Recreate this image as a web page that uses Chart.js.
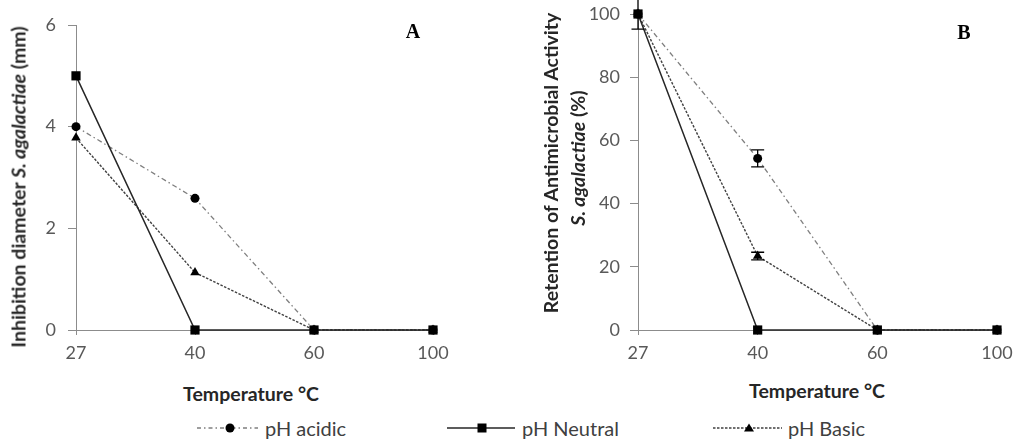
<!DOCTYPE html>
<html>
<head>
<meta charset="utf-8">
<script src="https://cdn.jsdelivr.net/npm/chart.js@4"></script>
<style>
  html, body { margin:0; padding:0; background:#fff; }
  #wrap { position:relative; width:1013px; height:441px; background:#fff; overflow:hidden; font-family: Lato, "Open Sans", sans-serif; }
  .box { position:absolute; }
  .ytitle { position:absolute; white-space:nowrap; transform:translate(-50%,-50%) rotate(-90deg); font-weight:bold; color:#262626; font-size:19.5px; }
  .xtitle { position:absolute; white-space:nowrap; transform:translate(-50%,-50%); font-weight:bold; color:#262626; font-size:19.5px; }
  .panel { position:absolute; font-family:"Liberation Serif", "Times New Roman", serif; font-weight:bold; font-size:20px; color:#000; transform:translate(-50%,-50%); }
  .leg { position:absolute; top:428px; transform:translateY(-50%); font-size:20px; color:#404040; white-space:nowrap; }
  svg.ls { position:absolute; top:420px; overflow:visible; }
</style>
</head>
<body>
<div id="wrap">
  <div class="box" style="left:0;top:0;width:470px;height:375px;"><canvas id="cA"></canvas></div>
  <div class="box" style="left:520px;top:0;width:493px;height:375px;"><canvas id="cB"></canvas></div>

  <div class="ytitle" style="left:18px;top:187px;">Inhibition diameter <i>S. agalactiae</i> (mm)</div>
  <div class="ytitle" style="left:550px;top:163px;">Retention of Antimicrobial Activity</div>
  <div class="ytitle" style="left:577px;top:158px;"><i>S. agalactiae</i> (%)</div>

  <div class="xtitle" style="left:251px;top:393px;">Temperature °C</div>
  <div class="xtitle" style="left:817px;top:390px;">Temperature °C</div>

  <div class="panel" style="left:413px;top:31px;">A</div>
  <div class="panel" style="left:964px;top:32px;">B</div>

  <svg class="ls" style="left:197px;" width="62" height="16">
    <line x1="0" y1="8" x2="61" y2="8" stroke="#7f7f7f" stroke-width="1.3" stroke-dasharray="4,3,1.5,3"/>
    <circle cx="33" cy="8" r="4.5" fill="#000"/>
  </svg>
  <div class="leg" style="left:265px;">pH acidic</div>

  <svg class="ls" style="left:447px;" width="70" height="16">
    <line x1="0" y1="8" x2="68" y2="8" stroke="#262626" stroke-width="1.5"/>
    <rect x="30.5" y="3.5" width="9" height="9" fill="#000"/>
  </svg>
  <div class="leg" style="left:522px;">pH Neutral</div>

  <svg class="ls" style="left:713px;" width="70" height="16">
    <line x1="0" y1="8" x2="69" y2="8" stroke="#404040" stroke-width="1.4" stroke-dasharray="2.5,1.5"/>
    <polygon points="36,3.5 41,11.5 31,11.5" fill="#000"/>
  </svg>
  <div class="leg" style="left:788px;">pH Basic</div>
</div>

<script>
// ---- data ----
const temps = ['27', '40', '60', '100'];

const aAcidic  = [4.0, 2.59, 0, 0];
const aNeutral = [5.0, 0, 0, 0];
const aBasic   = [3.78, 1.13, 0, 0];

const bAcidic  = [100, 54.3, 0, 0];
const bNeutral = [100, 0, 0, 0];
const bBasic   = [100, 23.4, 0, 0];

const bAcidicErr = [4.8, 2.7, 0, 0];
const bBasicErr  = [0, 1.2, 0, 0];

const aTicks = [0, 2, 4, 6];
const bTicks = [0, 20, 40, 60, 80, 100];

// ---- styling ----
Chart.defaults.font.family = 'Lato, "Open Sans", sans-serif';
Chart.defaults.animation = false;

const axisGray = '#8c8c8c';
const tickGray = '#595959';

function makeSets(ac, ne, ba, errs) {
  return [
    { label:'pH Neutral', data:ne, order:0, borderColor:'#262626', borderWidth:1.5,
      pointStyle:'rect', pointRadius:6.5, pointBackgroundColor:'#000', pointBorderWidth:0, tension:0, clip:false },
    { label:'pH acidic', data:ac, order:2, borderColor:'#7f7f7f', borderWidth:1.3, borderDash:[5,3,1.5,3],
      pointStyle:'circle', pointRadius:4.5, pointBackgroundColor:'#000', pointBorderWidth:0, tension:0, clip:false,
      errors: errs ? errs[0] : null },
    { label:'pH Basic', data:ba, order:1, borderColor:'#404040', borderWidth:1.4, borderDash:[2.5,1.5],
      pointStyle:'triangle', pointRadius:5.5, pointBackgroundColor:'#000', pointBorderWidth:0, tension:0, clip:false,
      errors: errs ? errs[1] : null }
  ];
}

const errorBars = {
  id:'errorBars',
  afterDatasetsDraw(chart) {
    const ctx = chart.ctx;
    const ys = chart.scales.y;
    ctx.save();
    ctx.strokeStyle = '#000';
    ctx.lineWidth = 1.3;
    chart.data.datasets.forEach((ds, i) => {
      if (!ds.errors) return;
      const meta = chart.getDatasetMeta(i);
      meta.data.forEach((pt, j) => {
        const e = ds.errors[j];
        if (!e) return;
        const v = ds.data[j];
        const y1 = ys.getPixelForValue(v + e);
        const y2 = ys.getPixelForValue(v - e);
        const x = pt.x;
        ctx.beginPath();
        ctx.moveTo(x, y1); ctx.lineTo(x, y2);
        ctx.moveTo(x - 6.5, y1); ctx.lineTo(x + 6.5, y1);
        ctx.moveTo(x - 6.5, y2); ctx.lineTo(x + 6.5, y2);
        ctx.stroke();
      });
    });
    ctx.restore();
  }
};

function makeChart(id, sets, ticks, yWidth, pad, labelPad) {
  const maxV = ticks[ticks.length - 1];
  const step = ticks[1] - ticks[0];
  return new Chart(document.getElementById(id), {
    type:'line',
    data:{ labels:temps, datasets:sets },
    options:{
      responsive:true, maintainAspectRatio:false,
      layout:{ padding:pad },
      plugins:{ legend:{display:false}, tooltip:{enabled:false} },
      scales:{
        x:{
          type:'category', offset:false,
          grid:{ drawOnChartArea:false, drawTicks:true, tickLength:5, color:axisGray },
          border:{ color:axisGray, width:1 },
          ticks:{ color:tickGray, font:{size:18}, padding:7, maxRotation:0, autoSkip:false },
          afterFit(s){ s.height = 45; s.paddingLeft = 0; s.paddingRight = 0; }
        },
        y:{
          min:0, max:maxV,
          grid:{ drawOnChartArea:false, drawTicks:true, tickLength:8, color:axisGray },
          border:{ color:axisGray, width:1 },
          ticks:{ stepSize:step, color:tickGray, font:{size:18}, padding:labelPad },
          afterFit(s){ s.width = yWidth; s.paddingTop = 0; s.paddingBottom = 0; }
        }
      }
    },
    plugins:[errorBars]
  });
}

makeChart('cA', makeSets(aAcidic, aNeutral, aBasic, null), aTicks, 76,
  {left:0, top:25, right:37, bottom:0}, 12);
makeChart('cB', makeSets(bAcidic, bNeutral, bBasic, [bAcidicErr, bBasicErr]), bTicks, 118,
  {left:0, top:14, right:16, bottom:0}, 10);
</script>
</body>
</html>
